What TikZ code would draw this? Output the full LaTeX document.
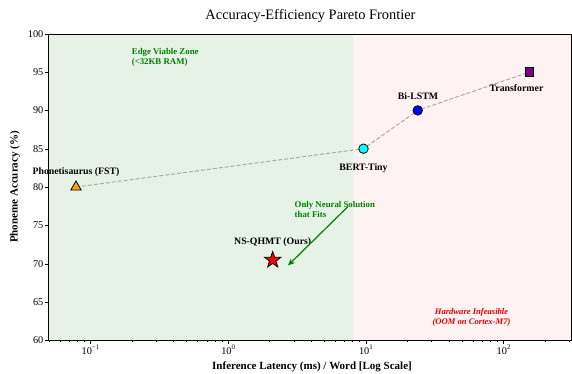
\documentclass[tikz,border=0pt]{standalone}
\usepackage{fontspec}
\setmainfont{Liberation Serif}
\usetikzlibrary{shapes.geometric,arrows.meta}
\definecolor{zonegreen}{RGB}{230,242,230}
\definecolor{zonered}{RGB}{255,242,242}
\definecolor{txtgreen}{RGB}{0,128,0}
\definecolor{txtred}{RGB}{235,0,0}
\definecolor{pathgray}{RGB}{170,170,170}
\definecolor{mkorange}{RGB}{255,165,0}
\definecolor{mkpurple}{RGB}{128,0,128}
\definecolor{mkcyan}{RGB}{0,255,255}
\definecolor{mkblue}{RGB}{0,0,255}
\begin{document}
\begin{tikzpicture}[x=1pt,y=-1pt,
  ticklab/.style={font=\fontsize{10.3}{11}\selectfont, inner sep=1pt},
  axlab/.style={font=\fontsize{11}{13}\selectfont\bfseries},
  ptlab/.style={font=\fontsize{9.8}{11}\selectfont\bfseries, inner sep=0pt},
  zonelab/.style={font=\fontsize{8.8}{10}\selectfont\bfseries, align=left, inner sep=0pt, text=txtgreen},
  mk/.style={draw=black, line width=0.8pt, inner sep=0pt},
  link/.style={pathgray, dashed, dash pattern=on 4pt off 2pt, line width=1pt}
]
\useasboundingbox (0,0) rectangle (572,374);
% zones
\fill[zonegreen] (48.3,34) rectangle (352.5,340.4);
\fill[zonered] (352.5,34) rectangle (571.5,340.4);
% title
\node[font=\fontsize{14.4}{16}\selectfont] (title) at (310.5,15.5) {Accuracy-Efficiency Pareto Frontier};
% zone labels
\node[zonelab, anchor=west] (edge) at (131.7,57.3) {Edge Viable Zone\\(<32KB RAM)};
\node[font=\fontsize{8.6}{10}\selectfont\bfseries\itshape, align=center, inner sep=0pt, text=txtred] (hw) at (471.5,317.5) {Hardware Infeasible\\(OOM on Cortex-M7)};
% data coordinates
\coordinate (pPhon) at (76,187);
\coordinate (pBert) at (363.5,148.7);
\coordinate (pBi) at (417.7,110.4);
\coordinate (pTr) at (529.3,72.1);
\coordinate (pStar) at (272.7,260);
\draw[link] (pPhon) -- (pBert) -- (pBi) -- (pTr);
\node[mk, regular polygon, regular polygon sides=3, minimum size=12pt, fill=mkorange] (phon) at (pPhon) {};
\node[mk, circle, minimum size=9.5pt, fill=mkcyan] (bert) at (pBert) {};
\node[mk, circle, minimum size=9.5pt, fill=mkblue] (bi) at (pBi) {};
\node[mk, rectangle, minimum size=8.5pt, fill=mkpurple] (tr) at (pTr) {};
\node[mk, star, star points=5, star point ratio=2.5, minimum size=17pt, fill=red] (star) at (pStar) {};
% point labels
\node[ptlab] (lphon) at (76,172.5) {Phonetisaurus (FST)};
\node[ptlab] (lbert) at (363.5,168.5) {BERT-Tiny};
\node[ptlab] (lbi) at (418,95.7) {Bi-LSTM};
\node[ptlab] (ltr) at (516.5,88.5) {Transformer};
\node[ptlab] (lstar) at (272.7,241.7) {NS-QHMT (Ours)};
% annotation
\coordinate (aStart) at (348,206.5);
\coordinate (aEnd) at (288,265.5);
\node[font=\fontsize{8.8}{9.5}\selectfont\bfseries, align=left, anchor=north west, inner sep=0pt, text=txtgreen] (note) at (294.5,201.5) {Only Neural Solution\\that Fits};
\draw[txtgreen, line width=1.2pt, -{Stealth[length=7pt,width=6pt]}] (aStart) -- (aEnd);
% frame
\draw[line width=0.8pt] (48.3,34) rectangle (571.5,340.4);
% y ticks
\foreach \v [count=\i from 0] in {100,95,90,85,80,75,70,65,60} {
  \draw[line width=0.6pt] (44.8,34+38.3*\i) -- (48.3,34+38.3*\i);
  \node[ticklab, anchor=east] (yt\v) at (44.5,34+38.3*\i) {\v};
}
% x major ticks
\foreach \d/\lab in {-1/{−1},0/0,1/1,2/2} {
  \draw[line width=0.6pt] (228.2+137.7*\d,340.4) -- (228.2+137.7*\d,343.9);
  \node[ticklab, anchor=north] (xt\d) at (228.2+137.7*\d,344) {10\raisebox{0.9ex}{\fontsize{7}{8}\selectfont\lab}};
}
% x minor ticks
\foreach \d in {-2,-1,0,1,2} {
  \foreach \k in {2,...,9} {
    \pgfmathsetmacro{\xx}{228.2+137.7*(\d+ln(\k)/ln(10))}
    \pgfmathparse{(\xx>48.3 && \xx<571.5) ? 1 : 0}
    \ifnum\pgfmathresult=1
      \draw[line width=0.5pt] (\xx,340.4) -- (\xx,342.4);
    \fi
  }
}
% axis labels
\node[axlab] (xlab) at (312,366.5) {Inference Latency (ms) / Word [Log Scale]};
\node[axlab, rotate=90] (ylab) at (15,187) {Phoneme Accuracy (\%)};
\end{tikzpicture}
\end{document}
